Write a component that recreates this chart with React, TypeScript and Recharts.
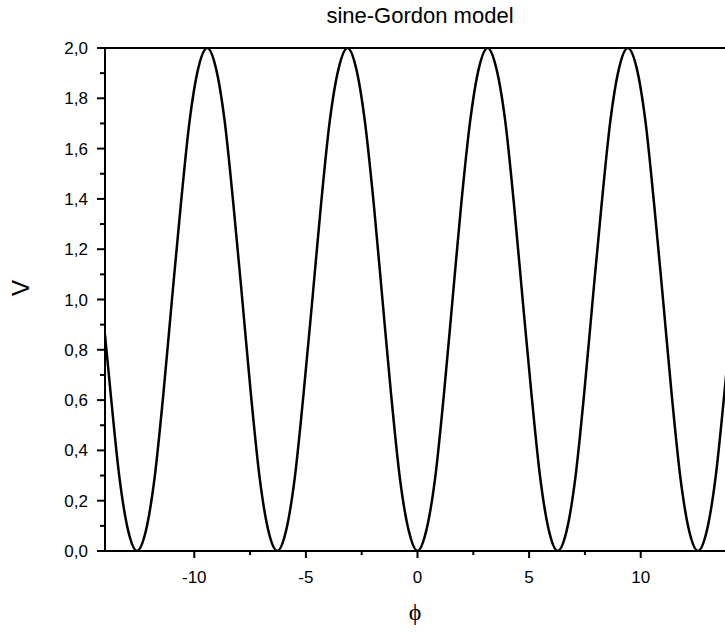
import { LineChart, Line, XAxis, YAxis, ReferenceLine } from 'recharts'

const PHI = [
  -14, -13.74, -13.35, -12.96, -12.57, -12.17, -11.78, -11.39, -11.0, -10.6, -10.21, -9.82, -9.42,
  -9.03, -8.64, -8.25, -7.85, -7.46, -7.07, -6.68, -6.28, -5.89, -5.5, -5.11, -4.71, -4.32, -3.93,
  -3.53, -3.14, -2.75, -2.36, -1.96, -1.57, -1.18, -0.79, -0.39, 0, 0.39, 0.79, 1.18, 1.57, 1.96,
  2.36, 2.75, 3.14, 3.53, 3.93, 4.32, 4.71, 5.11, 5.5, 5.89, 6.28, 6.68, 7.07, 7.46, 7.85, 8.25,
  8.64, 9.03, 9.42, 9.82, 10.21, 10.6, 11.0, 11.39, 11.78, 12.17, 12.57, 12.96, 13.35, 13.74, 14,
]
const V = [
  0.86, 0.62, 0.29, 0.08, 0, 0.08, 0.29, 0.62, 1.0, 1.38, 1.71, 1.92, 2.0,
  1.92, 1.71, 1.38, 1.0, 0.62, 0.29, 0.08, 0, 0.08, 0.29, 0.62, 1.0, 1.38, 1.71,
  1.92, 2.0, 1.92, 1.71, 1.38, 1.0, 0.62, 0.29, 0.08, 0, 0.08, 0.29, 0.62, 1.0, 1.38,
  1.71, 1.92, 2.0, 1.92, 1.71, 1.38, 1.0, 0.62, 0.29, 0.08, 0, 0.08, 0.29, 0.62, 1.0, 1.38,
  1.71, 1.92, 2.0, 1.92, 1.71, 1.38, 1.0, 0.62, 0.29, 0.08, 0, 0.08, 0.29, 0.62, 0.86,
]

const X_TICKS = [-10, -7.5, -5, -2.5, 0, 2.5, 5, 7.5, 10]
const X_LABELS = [-10, -5, 0, 5, 10]
const Y_TICKS = [0, 0.1, 0.2, 0.3, 0.4, 0.5, 0.6, 0.7, 0.8, 0.9, 1.0, 1.1, 1.2, 1.3, 1.4, 1.5, 1.6, 1.7, 1.8, 1.9, 2.0]

const data = PHI.map((phi, i) => ({ phi, v: V[i] }))

const FONT = '"Liberation Sans", Arial, sans-serif'

const YTick = (props: any) => {
  const { x, y, payload } = props
  const v = payload.value as number
  const major = Math.round(v * 10) % 2 === 0
  return (
    <g>
      <line x1={x - (major ? 8 : 5)} x2={x} y1={y} y2={y} stroke="#000" strokeWidth={2} />
      {major && (
        <text x={x - 17} y={y} dy={6} textAnchor="end" fontSize={17} fontFamily={FONT} fill="#000">
          {v.toFixed(1).replace('.', ',')}
        </text>
      )}
    </g>
  )
}

const XTick = (props: any) => {
  const { x, y, payload } = props
  const v = payload.value as number
  const major = X_LABELS.includes(v)
  return (
    <g>
      <line x1={x} x2={x} y1={y} y2={y + (major ? 7 : 4)} stroke="#000" strokeWidth={2} />
      {major && (
        <text x={x} y={y + 32} textAnchor="middle" fontSize={17} fontFamily={FONT} fill="#000">
          {v}
        </text>
      )}
    </g>
  )
}

export default function App() {
  return (
    <div style={{ position: 'absolute', left: 0, top: 0, width: 725, height: 637, overflow: 'hidden', background: '#fff', fontFamily: FONT }}>
      <LineChart width={745} height={637} data={data} margin={{ top: 48, right: 15, bottom: 46, left: 45 }}>
        <XAxis dataKey="phi" type="number" domain={[-14, 14]} ticks={X_TICKS} interval={0} height={40} tickSize={0} tickMargin={0} tickLine={false} tick={<XTick />} axisLine={{ stroke: '#000', strokeWidth: 2 }} allowDataOverflow />
        <YAxis type="number" domain={[0, 2]} ticks={Y_TICKS} interval={0} width={60} tickSize={0} tickMargin={0} tickLine={false} tick={<YTick />} axisLine={{ stroke: '#000', strokeWidth: 2 }} allowDataOverflow />
        <ReferenceLine y={2} stroke="#000" strokeWidth={2} />
        <ReferenceLine x={14} stroke="#000" strokeWidth={2} />
        <Line type="monotone" dataKey="v" stroke="#000" strokeWidth={2.5} dot={false} isAnimationActive={false} />
      </LineChart>
      <div style={{ position: 'absolute', left: 220, top: 5, width: 400, textAlign: 'center', fontSize: 22, lineHeight: '22px', color: '#000' }}>
        sine-Gordon model
      </div>
      <div style={{ position: 'absolute', left: 1, top: 273, width: 40, height: 30, lineHeight: '30px', textAlign: 'center', fontSize: 24, color: '#000', transform: 'rotate(-90deg)' }}>
        V
      </div>
      <div style={{ position: 'absolute', left: 395, top: 597, width: 40, height: 30, lineHeight: '30px', textAlign: 'center', fontSize: 24, color: '#000', fontFamily: '"Liberation Serif", "DejaVu Serif", serif' }}>
        ϕ
      </div>
    </div>
  )
}
